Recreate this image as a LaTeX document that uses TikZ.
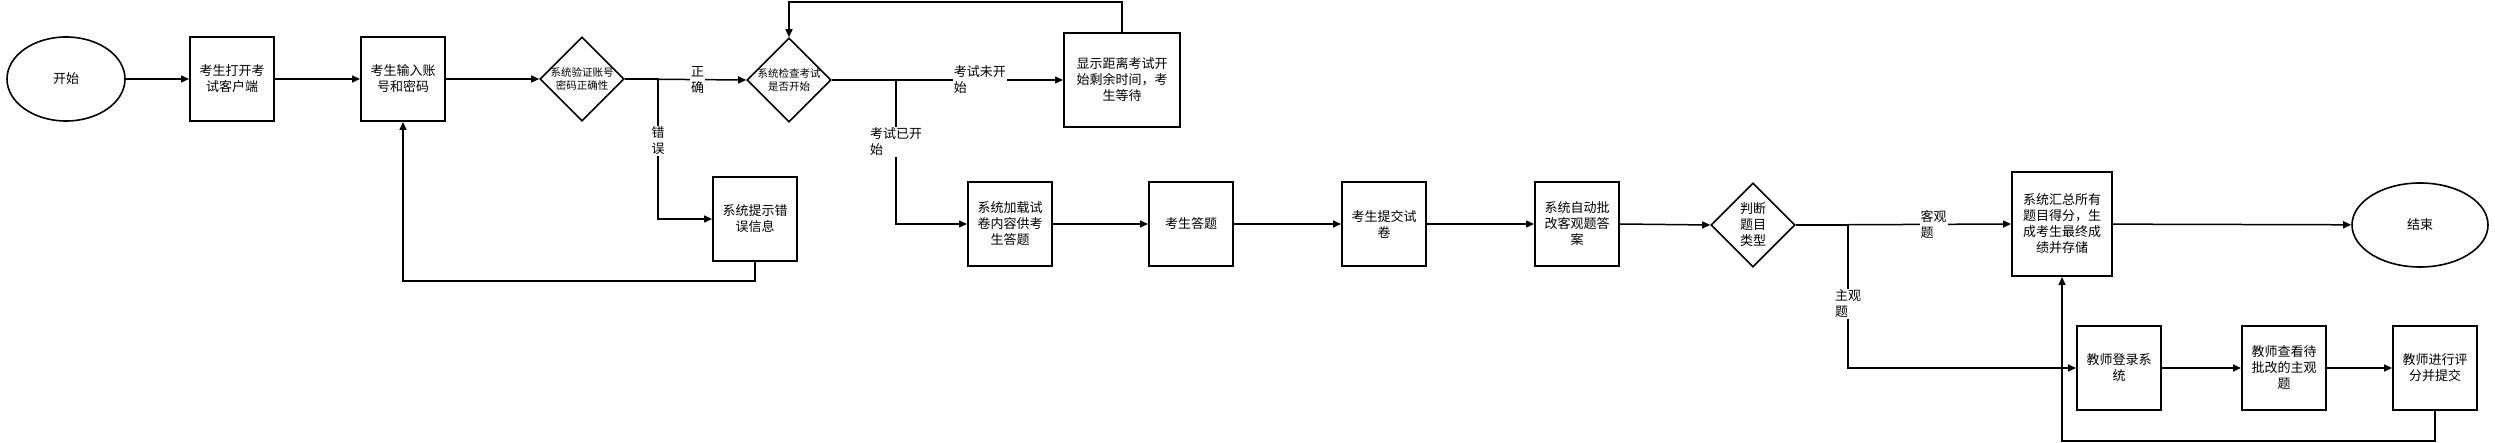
\documentclass[tikz,border=0pt]{standalone}
\usepackage{fontspec}
\setmainfont{Noto Sans CJK SC}
\usetikzlibrary{shapes.geometric,arrows.meta}
\tikzset{
  stepbox/.style={draw, line width=2pt, rectangle, minimum width=84pt, minimum height=84pt, inner sep=0pt, align=center, font=\fontsize{13}{16}\selectfont},
  termbox/.style={draw, line width=1.6pt, ellipse, minimum height=84pt, inner sep=0pt, font=\fontsize{13}{16}\selectfont},
  decbox/.style={draw, line width=1.6pt, diamond, minimum width=84pt, minimum height=84pt, inner sep=0pt},
  dtext/.style={align=center, inner sep=0pt},
  conn/.style={line width=1.5pt, -{Triangle[length=8pt,width=7pt]}},
  elabel/.style={fill=white, inner sep=1pt, align=left, font=\fontsize{13}{16}\selectfont}
}
\begin{document}
\begin{tikzpicture}[x=1pt,y=-1pt]
\useasboundingbox[fill=white] (0,0) rectangle (2495,443);
% row 1
\node[termbox, minimum width=118pt] (start) at (66,79) {开始};
\node[stepbox] (b1) at (232,79) {考生打开考\\试客户端};
\node[stepbox] (b2) at (403,79) {考生输入账\\号和密码};
\node[decbox] (d1) at (582,79) {};
\node[dtext, font=\fontsize{10.5}{13}\selectfont] (d1t) at (d1.center) {系统验证账号\\密码正确性};
\node[stepbox] (err) at (755,219) {系统提示错\\误信息};
\node[decbox] (d2) at (789,80) {};
\node[dtext, font=\fontsize{10.5}{13}\selectfont] (d2t) at (d2.center) {系统检查考试\\是否开始};
\node[stepbox, minimum width=116pt, minimum height=94pt] (wait) at (1122,80) {显示距离考试开\\始剩余时间，考\\生等待};
% row 2
\node[stepbox] (load) at (1010,224) {系统加载试\\卷内容供考\\生答题};
\node[stepbox] (ans) at (1191,224) {考生答题};
\node[stepbox] (sub) at (1384,224) {考生提交试\\卷};
\node[stepbox] (auto) at (1577,224) {系统自动批\\改客观题答\\案};
\node[decbox] (d3) at (1753,225) {};
\node[dtext, font=\fontsize{13}{16}\selectfont] (d3t) at (d3.center) {判断\\题目\\类型};
\node[stepbox, minimum width=100pt, minimum height=104pt] (sum) at (2062,224) {系统汇总所有\\题目得分，生\\成考生最终成\\绩并存储};
\node[termbox, minimum width=136pt] (end) at (2420,225) {结束};
% row 3
\node[stepbox] (t1) at (2119,368) {教师登录系\\统};
\node[stepbox] (t2) at (2284,368) {教师查看待\\批改的主观\\题};
\node[stepbox] (t3) at (2435,368) {教师进行评\\分并提交};
% junctions
\coordinate (j1) at (658,79);
\coordinate (lp1) at (403,281);
\coordinate (j2) at (896,80);
\coordinate (lp2) at (789,2);
\coordinate (j3) at (1848,225);
\coordinate (lp3) at (2062,441);
% connectors
\draw[conn] (start) -- (b1);
\draw[conn] (b1) -- (b2);
\draw[conn] (b2) -- (d1);
\draw[conn] (d1.east) -- (d2.west) node[elabel, pos=0.6] {正\\确};
\draw[conn] (d1.east) -- (j1) |- (err.west) node[elabel, pos=0.22] {错\\误};
\draw[conn] (err.south) |- (lp1) -- (b2.south);
\draw[conn] (d2.east) -- (wait.west) node[elabel, pos=0.64] {考试未开\\始};
\draw[conn] (wait.north) |- (lp2) -- (d2.north);
\draw[conn] (d2.east) -- (j2) |- (load.west) node[elabel, pos=0.215] {考试已开\\始};
\draw[conn] (load) -- (ans);
\draw[conn] (ans) -- (sub);
\draw[conn] (sub) -- (auto);
\draw[conn] (auto.east) -- (d3.west);
\draw[conn] (d3.east) -- (sum.west) node[elabel, pos=0.64] {客观\\题};
\draw[conn] (d3.east) -- (j3) |- (t1.west) node[elabel, pos=0.275] {主观\\题};
\draw[conn] (sum) -- (end);
\draw[conn] (t1) -- (t2);
\draw[conn] (t2) -- (t3);
\draw[conn] (t3.south) |- (lp3) -- (sum.south);
\end{tikzpicture}
\end{document}
